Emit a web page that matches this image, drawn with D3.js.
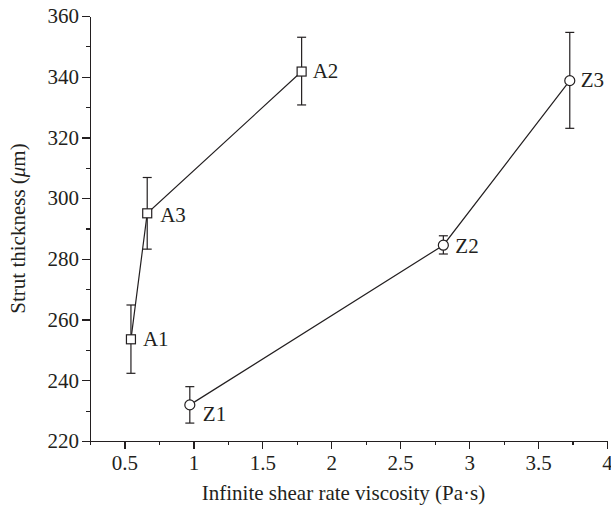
<!DOCTYPE html>
<html>
<head>
<meta charset="utf-8">
<script src="https://cdn.jsdelivr.net/npm/d3@7"></script>
<style>
  body { margin: 0; background: #fff; }
  text { font-family: "Liberation Serif", "DejaVu Serif", serif; fill: #231f20; }
  .axis path, .axis line { stroke: #231f20; stroke-width: 1.2; shape-rendering: crispEdges; }
</style>
</head>
<body>
<svg class="chart-svg"></svg>
<script>
const WIDTH = 611;
const HEIGHT = 507;
const FONT = "21px";

// series A (squares)
const aNames = ["A1", "A3", "A2"];
const aVisc = [0.547, 0.665, 1.785];
const aThick = [253.5, 295.0, 341.7];
const aLow = [242.3, 283.2, 330.7];
const aHigh = [264.8, 306.8, 353.0];

// series Z (circles)
const zNames = ["Z1", "Z2", "Z3"];
const zVisc = [0.974, 2.813, 3.73];
const zThick = [231.9, 284.5, 338.7];
const zLow = [225.9, 281.6, 323.0];
const zHigh = [237.9, 287.6, 354.6];

const xTicks = [0.5, 1, 1.5, 2, 2.5, 3, 3.5, 4];
const xMinor = [0.25, 0.75, 1.25, 1.75, 2.25, 2.75, 3.25, 3.75];
const yTicks = [220, 240, 260, 280, 300, 320, 340, 360];
const yMinor = [230, 250, 270, 290, 310, 330, 350];

// label offsets from the marker (px)
const labelOffset = {
  A1: [12, 7], A3: [13, 9], A2: [11, 6],
  Z1: [13, 16], Z2: [12, 8], Z3: [11, 6]
};

const toRows = (names, xs, ys, lo, hi) =>
  names.map((n, i) => ({ name: n, x: xs[i], y: ys[i], lo: lo[i], hi: hi[i] }));

const seriesA = toRows(aNames, aVisc, aThick, aLow, aHigh);
const seriesZ = toRows(zNames, zVisc, zThick, zLow, zHigh);

const svg = d3.select(".chart-svg").attr("width", WIDTH).attr("height", HEIGHT);

const x = d3.scaleLinear().domain([0.25, 4]).range([90, 607]);
const y = d3.scaleLinear().domain([220, 360]).range([441, 16]);

// minor ticks first
svg.append("g")
  .attr("class", "axis")
  .attr("transform", `translate(0, ${y(220)})`)
  .call(d3.axisBottom(x).tickValues(xMinor).tickSize(4).tickFormat(""))
  .select(".domain").remove();

svg.append("g")
  .attr("class", "axis")
  .attr("transform", `translate(${x(0.25)}, 0)`)
  .call(d3.axisLeft(y).tickValues(yMinor).tickSize(4).tickFormat(""))
  .select(".domain").remove();

const xAxis = svg.append("g")
  .attr("class", "axis")
  .attr("transform", `translate(0, ${y(220)})`)
  .call(d3.axisBottom(x).tickValues(xTicks).tickSize(8).tickSizeOuter(0).tickPadding(6).tickFormat(d3.format("")));
xAxis.selectAll(".tick text").style("font-size", FONT);

const yAxis = svg.append("g")
  .attr("class", "axis")
  .attr("transform", `translate(${x(0.25)}, 0)`)
  .call(d3.axisLeft(y).tickValues(yTicks).tickSize(8).tickSizeOuter(0).tickPadding(3));
yAxis.selectAll(".tick text").style("font-size", FONT);

// axis titles
svg.append("text")
  .attr("x", (x(0.25) + x(4)) / 2 - 5)
  .attr("y", 500)
  .attr("text-anchor", "middle")
  .style("font-size", FONT)
  .text("Infinite shear rate viscosity (Pa·s)");

const yTitle = svg.append("text")
  .attr("transform", `translate(25, ${(y(220) + y(360)) / 2}) rotate(-90)`)
  .attr("text-anchor", "middle")
  .style("font-size", FONT);
yTitle.append("tspan").text("Strut thickness (");
yTitle.append("tspan").style("font-style", "italic").text("μ");
yTitle.append("tspan").text("m)");

const line = d3.line().x(d => x(d.x)).y(d => y(d.y));

const drawSeries = (rows, shape) => {
  const g = svg.append("g");

  g.append("path")
    .datum(rows)
    .attr("d", line)
    .attr("fill", "none")
    .attr("stroke", "#231f20")
    .attr("stroke-width", 1.2);

  const bars = g.selectAll(".err").data(rows).enter().append("g").attr("class", "err")
    .attr("stroke", "#231f20").attr("stroke-width", 1.2);
  bars.append("line")
    .attr("x1", d => x(d.x)).attr("x2", d => x(d.x))
    .attr("y1", d => y(d.lo)).attr("y2", d => y(d.hi));
  bars.append("line")
    .attr("x1", d => x(d.x) - 4.5).attr("x2", d => x(d.x) + 4.5)
    .attr("y1", d => y(d.lo)).attr("y2", d => y(d.lo));
  bars.append("line")
    .attr("x1", d => x(d.x) - 4.5).attr("x2", d => x(d.x) + 4.5)
    .attr("y1", d => y(d.hi)).attr("y2", d => y(d.hi));

  if (shape === "square") {
    g.selectAll(".mark").data(rows).enter().append("rect")
      .attr("x", d => x(d.x) - 4.5).attr("y", d => y(d.y) - 4.5)
      .attr("width", 9).attr("height", 9)
      .attr("fill", "#fff").attr("stroke", "#231f20").attr("stroke-width", 1.2);
  } else {
    g.selectAll(".mark").data(rows).enter().append("circle")
      .attr("cx", d => x(d.x)).attr("cy", d => y(d.y)).attr("r", 5)
      .attr("fill", "#fff").attr("stroke", "#231f20").attr("stroke-width", 1.2);
  }

  g.selectAll(".lab").data(rows).enter().append("text")
    .attr("x", d => x(d.x) + labelOffset[d.name][0])
    .attr("y", d => y(d.y) + labelOffset[d.name][1])
    .style("font-size", FONT)
    .text(d => d.name);
};

drawSeries(seriesA, "square");
drawSeries(seriesZ, "circle");
</script>
</body>
</html>
